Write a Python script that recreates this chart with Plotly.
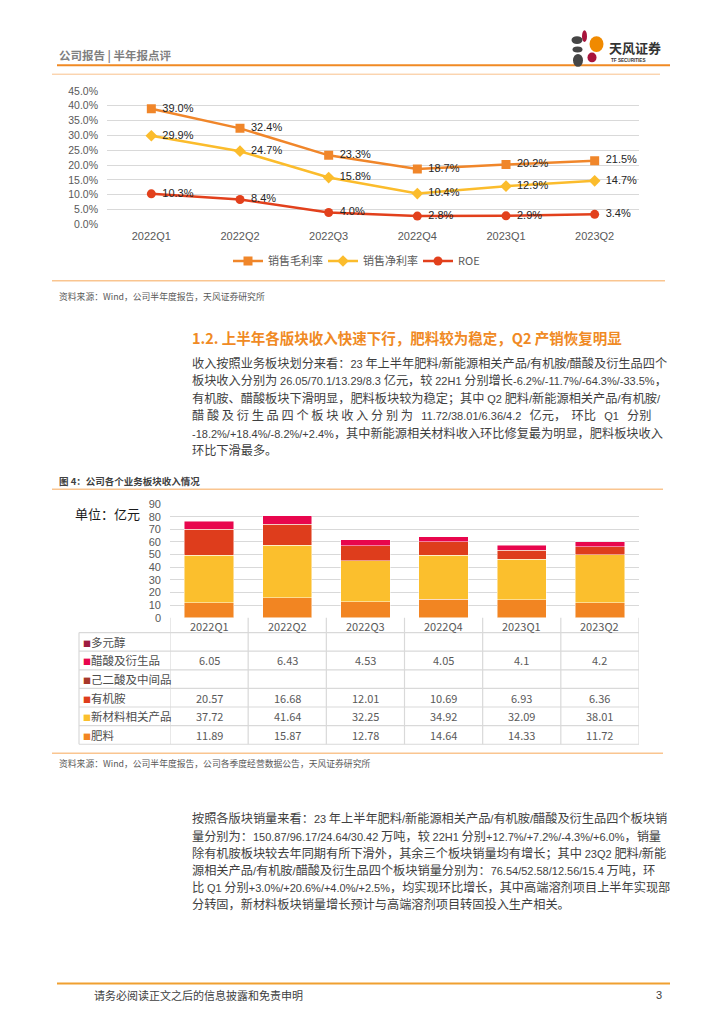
import re
import plotly.graph_objects as go

W, H = 724, 1024


def X(p):
    return p / W


def Y(p):
    return 1 - p / H


FONT = "Noto Sans CJK SC, Noto Sans, sans-serif"
LATIN = "Liberation Sans, Arial, sans-serif"

# ---------------- data ----------------
quarters = ["2022Q1", "2022Q2", "2022Q3", "2022Q4", "2023Q1", "2023Q2"]

gross_margin = [39.0, 32.4, 23.3, 18.7, 20.2, 21.5]
net_margin = [29.9, 24.7, 15.8, 10.4, 12.9, 14.7]
roe = [10.3, 8.4, 4.0, 2.8, 2.9, 3.4]

polyol = [None, None, None, None, None, None]
acetic = [6.05, 6.43, 4.53, 4.05, 4.1, 4.2]
adipic = [None, None, None, None, None, None]
amine = [20.57, 16.68, 12.01, 10.69, 6.93, 6.36]
new_material = [37.72, 41.64, 32.25, 34.92, 32.09, 38.01]
fertilizer = [11.89, 15.87, 12.78, 14.64, 14.33, 11.72]

table_names = ["多元醇", "醋酸及衍生品", "己二酸及中间品", "有机胺", "新材料相关产品", "肥料"]
table_values = [polyol, acetic, adipic, amine, new_material, fertilizer]
table_colors = ["#9E1C40", "#E8064D", "#A8382A", "#DE3D1C", "#FBBF2D", "#F28522"]

C_GROSS, C_NET, C_ROE = "#F0862A", "#FBBC2C", "#E2401C"

fig = go.Figure()

# ---------------- line chart ----------------
for name, vals, col, sym, sz in [
    ("销售毛利率", gross_margin, C_GROSS, "square", 9),
    ("销售净利率", net_margin, C_NET, "diamond", 9),
    ("ROE", roe, C_ROE, "circle", 9),
]:
    fig.add_trace(go.Scatter(
        x=quarters, y=vals, name=name, mode="lines+markers",
        line=dict(color=col, width=2.5),
        marker=dict(symbol=sym, size=sz, color=col),
        xaxis="x", yaxis="y", hoverinfo="skip"))
    fig.add_trace(go.Scatter(
        x=quarters, y=vals, mode="markers+text", showlegend=False,
        text=[f"{v:.1f}%" for v in vals], textposition="middle right",
        marker=dict(size=16, opacity=0),
        textfont=dict(size=11, color="#262626", family=LATIN),
        cliponaxis=False, xaxis="x", yaxis="y", hoverinfo="skip"))

# ---------------- stacked bars ----------------
for name, vals, col in [
    ("肥料", fertilizer, table_colors[5]),
    ("新材料相关产品", new_material, table_colors[4]),
    ("有机胺", amine, table_colors[3]),
    ("醋酸及衍生品", acetic, table_colors[1]),
]:
    fig.add_trace(go.Bar(
        x=quarters, y=vals, name=name, width=0.63, showlegend=False,
        marker=dict(color=col, line=dict(color="rgba(255,255,255,0.6)", width=0.8)),
        xaxis="x2", yaxis="y2", hoverinfo="skip"))

shapes = []
annotations = []


def hline(y, x0, x1, color, width):
    shapes.append(dict(type="line", xref="paper", yref="paper", x0=X(x0), x1=X(x1),
                       y0=Y(y), y1=Y(y), line=dict(color=color, width=width)))


def text(x, y, s, size, color="#404040", anchor="left", bold=False, family=FONT):
    annotations.append(dict(xref="paper", yref="paper", x=X(x), y=Y(y),
                            xanchor=anchor, yanchor="middle", showarrow=False,
                            text=f"<b>{s}</b>" if bold else s,
                            font=dict(size=size, color=color, family=family)))


def mixed(s, size=11):
    return re.sub(r"([\x21-\x7E][\x20-\x7E]*[\x21-\x7E]|[\x21-\x7E])",
                  lambda m: (f"<span style='font-family:{LATIN};"
                             f"font-size:{size}px'>{m.group(1)}</span>"), s)


# header
text(57, 50, "公司报告 | 半年报点评", 11.5, "#7F7F7F", bold=True)
hline(60, 57, 670, "#F08A24", 2)
hline(69, 52, 660, "#F9C18C", 1)

# logo petals
for cx, cy, w, h, col in [
    (584.5, 30.5, 5, 12, "#A8143C"),
    (577, 34.5, 11, 8, "#454545"),
    (596.5, 38.5, 14, 16, "#F08A00"),
    (577.5, 44, 10, 6, "#454545"),
    (578, 55, 10, 13, "#454545"),
    (592, 52, 9, 10, "#A8143C"),
]:
    shapes.append(dict(type="circle", xref="paper", yref="paper",
                       x0=X(cx - w / 2), x1=X(cx + w / 2), y0=Y(cy + h / 2), y1=Y(cy - h / 2),
                       fillcolor=col, line=dict(width=0)))
text(607, 42, "天风证券", 13, "#333333", bold=True)
text(609, 55.5, "TF SECURITIES", 4.6, "#333333", bold=True, family=LATIN)

# line chart frame texts
hline(278, 52, 665, "#FAC590", 1.5)
text(57, 294, "资料来源：Wind，公司半年度报告，天风证券研究所", 8.8, "#595959")

# section heading + paragraph 1
text(190, 335, "1.2. 上半年各版块收入快速下行，肥料较为稳定，Q2 产销恢复明显", 14.5, "#F08A24", bold=True)
para1 = [
    "收入按照业务板块划分来看：23 年上半年肥料/新能源相关产品/有机胺/醋酸及衍生品四个",
    "板块收入分别为 26.05/70.1/13.29/8.3 亿元，较 22H1 分别增长-6.2%/-11.7%/-64.3%/-33.5%，",
    "有机胺、醋酸板块下滑明显，肥料板块较为稳定；其中 Q2 肥料/新能源相关产品/有机胺/",
    "醋 酸 及 衍 生 品 四 个 板 块 收 入 分 别 为   11.72/38.01/6.36/4.2   亿元，  环比   Q1   分别",
    "-18.2%/+18.4%/-8.2%/+2.4%，其中新能源相关材料收入环比修复最为明显，肥料板块收入",
    "环比下滑最多。",
]
for i, line in enumerate(para1):
    text(190, 361 + i * 17.7, mixed(line), 12.2, "#3F3F3F")

# figure 4 title
text(57, 481, "<b>图 4：公司各个业务板块收入情况</b>", 9.5, "#404040")
hline(489, 52, 663, "#FAC590", 1.5)
text(73, 514, "单位：亿元", 13, "#1A1A1A")

# table
GRID = "#D9D9D9"
top, head_b, row_h = 619, 634, 18.83
left = 79
for i in range(len(table_names) + 1):
    hline(head_b + i * row_h, left, 639, GRID, 1.2)
shapes.append(dict(type="line", xref="paper", yref="paper", x0=X(left), x1=X(left),
                   y0=Y(head_b), y1=Y(head_b + len(table_names) * row_h),
                   line=dict(color=GRID, width=1.2)))
for k in range(len(quarters) + 1):
    shapes.append(dict(type="line", xref="x2", yref="paper", x0=k - 0.5, x1=k - 0.5,
                       y0=Y(top), y1=Y(head_b + len(table_names) * row_h),
                       line=dict(color=GRID, width=1.2)))
for j, q in enumerate(quarters):
    annotations.append(dict(xref="x2", yref="paper", x=j, y=Y((top + head_b) / 2 + 0.5),
                            showarrow=False, text=q, xanchor="center", yanchor="middle",
                            font=dict(size=11, color="#595959", family=FONT)))
for i, (nm, vals, col) in enumerate(zip(table_names, table_values, table_colors)):
    yc = head_b + (i + 0.5) * row_h
    annotations.append(dict(xref="paper", yref="paper", x=X(81), y=Y(yc), showarrow=False,
                            xanchor="left", yanchor="middle",
                            text=f"<span style='color:{col};font-size:8px'>■</span>{nm}",
                            font=dict(size=11.5, color="#4D4D4D", family=FONT)))
    for j, v in enumerate(vals):
        if v is None:
            continue
        annotations.append(dict(xref="x2", yref="paper", x=j, y=Y(yc), showarrow=False,
                                xanchor="center", yanchor="middle", text=f"{v:g}",
                                font=dict(size=11, color="#595959", family=FONT)))

hline(756, 52, 663, "#FAC590", 1.5)
text(57, 766, "资料来源：Wind，公司半年度报告，公司各季度经营数据公告，天风证券研究所", 8.8, "#595959")

para2 = [
    "按照各版块销量来看：23 年上半年肥料/新能源相关产品/有机胺/醋酸及衍生品四个板块销",
    "量分别为：150.87/96.17/24.64/30.42 万吨，较 22H1 分别+12.7%/+7.2%/-4.3%/+6.0%，销量",
    "除有机胺板块较去年同期有所下滑外，其余三个板块销量均有增长；其中 23Q2 肥料/新能",
    "源相关产品/有机胺/醋酸及衍生品四个板块销量分别为：76.54/52.58/12.56/15.4 万吨，环",
    "比 Q1 分别+3.0%/+20.6%/+4.0%/+2.5%，均实现环比增长，其中高端溶剂项目上半年实现部",
    "分转固，新材料板块销量增长预计与高端溶剂项目转固投入生产相关。",
]
for i, line in enumerate(para2):
    text(190, 822 + i * 17.4, mixed(line), 12.2, "#3F3F3F")

# footer
hline(989, 57, 670, "#F0A030", 2)
text(92, 1001, "请务必阅读正文之后的信息披露和免责申明", 11, "#404040")
text(664, 1001, "3", 11, "#404040", anchor="right", family=LATIN)

fig.update_layout(
    width=W, height=H, margin=dict(l=0, r=0, t=0, b=0),
    paper_bgcolor="white", plot_bgcolor="white", barmode="stack",
    font=dict(family=FONT),
    shapes=shapes, annotations=annotations,
    xaxis=dict(domain=[X(107), X(639)], anchor="y", type="category", range=[-0.5, 5.5],
               showgrid=False, showline=False, ticks="", zeroline=False,
               tickfont=dict(size=11, color="#595959", family=LATIN), ticklabelstandoff=4),
    yaxis=dict(domain=[Y(221), Y(86)], anchor="x", range=[0, 45], dtick=5,
               tickformat=".1f", ticksuffix="%", showgrid=True, gridcolor=GRID, gridwidth=1,
               zeroline=False, ticks="", tickfont=dict(size=10.5, color="#595959", family=LATIN),
               ticklabelstandoff=8),
    xaxis2=dict(domain=[X(170), X(639)], anchor="y2", type="category", range=[-0.5, 5.5],
                showticklabels=False, showgrid=False, ticks="", zeroline=False),
    yaxis2=dict(domain=[Y(619), Y(504)], anchor="x2", range=[0, 90], dtick=10,
                showgrid=True, gridcolor=GRID, gridwidth=1, zeroline=False, ticks="",
                tickfont=dict(size=11, color="#595959", family=LATIN), ticklabelstandoff=8),
    legend=dict(orientation="h", x=X(228), y=Y(258), xanchor="left", yanchor="middle",
                traceorder="normal", entrywidth=50, entrywidthmode="pixels",
                font=dict(size=11, color="#595959", family=FONT), bgcolor="rgba(0,0,0,0)",
                itemclick=False, itemdoubleclick=False),
    showlegend=True,
)

fig.write_html("out.html", config={"displayModeBar": False},
               post_script="document.body.style.margin='0';document.body.style.overflow='hidden';")
